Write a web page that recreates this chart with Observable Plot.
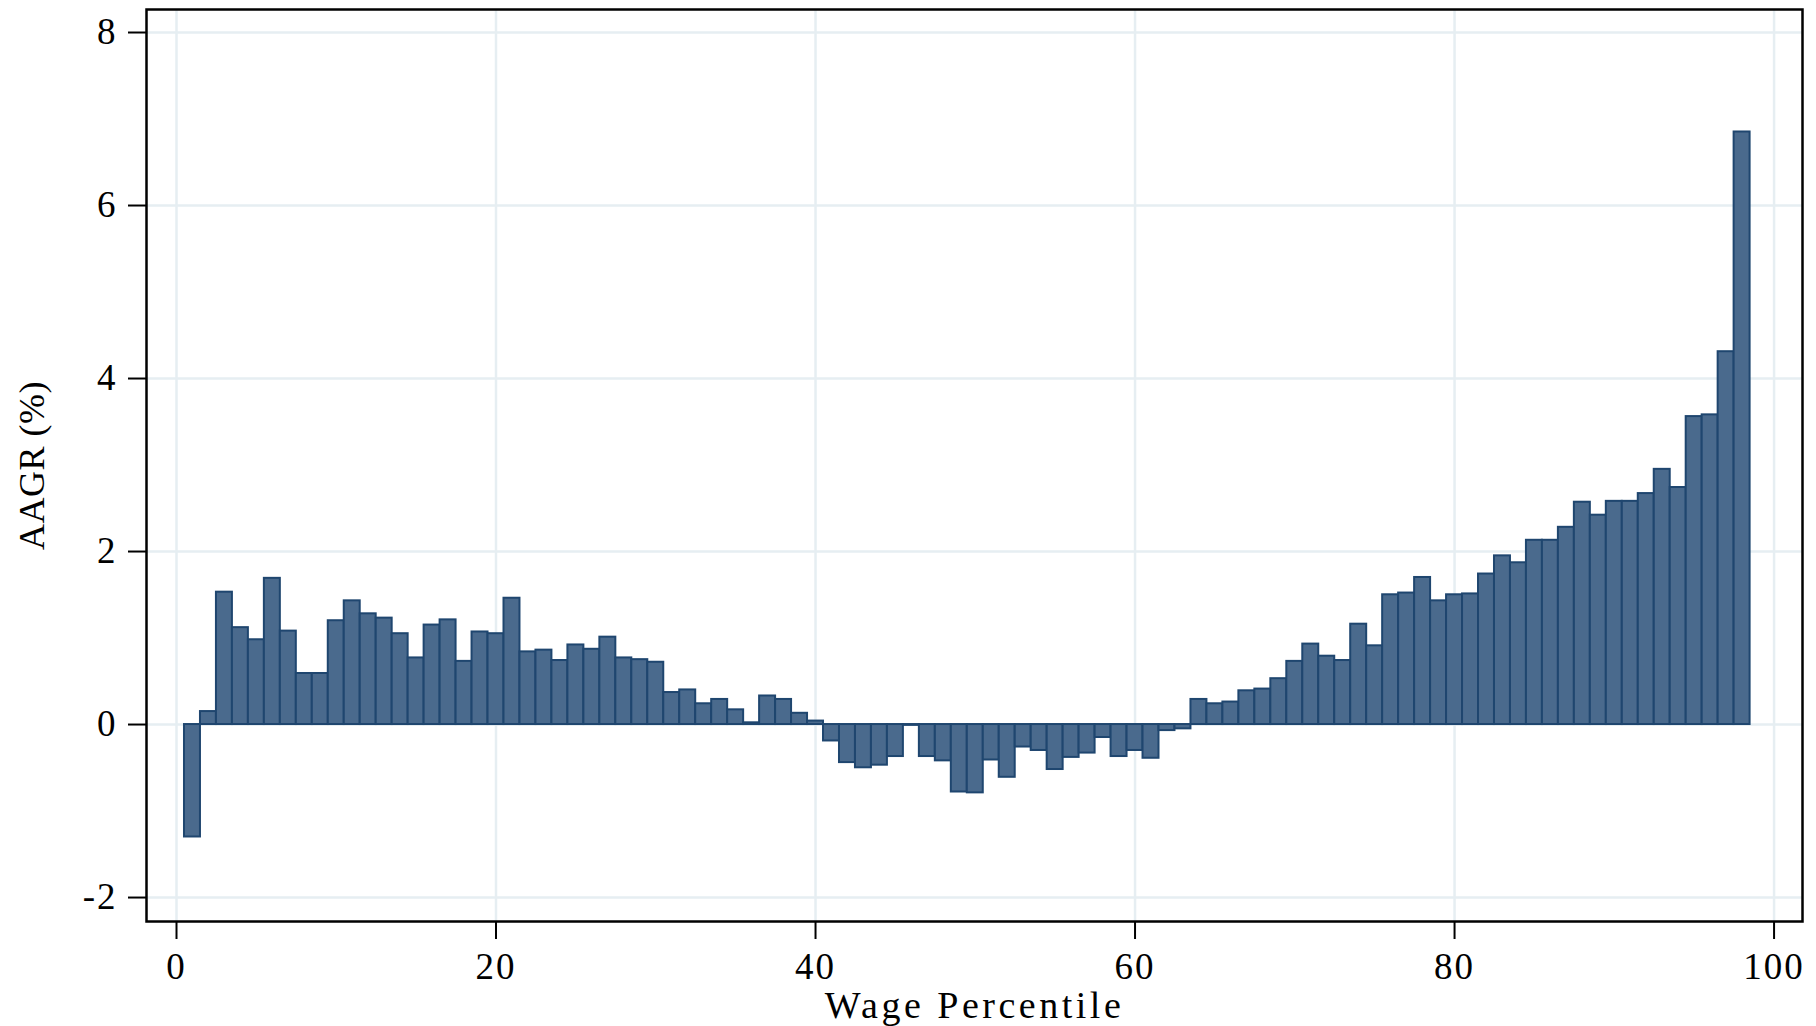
<!DOCTYPE html>
<html>
<head>
<meta charset="utf-8">
<script src="https://cdn.jsdelivr.net/npm/d3@7"></script>
<script src="https://cdn.jsdelivr.net/npm/@observablehq/plot@0.6"></script>
<style>
  html, body { margin: 0; padding: 0; background: white; overflow: hidden; }
  #chart svg { display: block; }
  #chart svg text { letter-spacing: 2px; }
  #chart svg text.xlab { letter-spacing: 3.5px; }
  #chart svg text.ylab { letter-spacing: 0.5px; }
</style>
</head>
<body>
<div id="chart"></div>
<script>
// Wage percentiles (1..98) and average annual growth rate (%)
const percentiles = d3.range(1, 99);
const aagr = [
  -1.30, 0.15, 1.53, 1.12, 0.98, 1.69, 1.08, 0.59, 0.59, 1.20,
   1.43, 1.28, 1.23, 1.05, 0.77, 1.15, 1.21, 0.73, 1.07, 1.05,
   1.46, 0.84, 0.86, 0.74, 0.92, 0.87, 1.01, 0.77, 0.75, 0.72,
   0.37, 0.40, 0.24, 0.29, 0.17, 0.02, 0.33, 0.29, 0.13, 0.04,
  -0.19, -0.44, -0.50, -0.47, -0.37, -0.01, -0.37, -0.42, -0.78, -0.79,
  -0.41, -0.61, -0.26, -0.30, -0.52, -0.38, -0.33, -0.15, -0.37, -0.30,
  -0.39, -0.07, -0.05, 0.29, 0.24, 0.26, 0.39, 0.41, 0.53, 0.73,
   0.93, 0.79, 0.74, 1.16, 0.91, 1.50, 1.52, 1.70, 1.43, 1.50,
   1.51, 1.74, 1.95, 1.87, 2.13, 2.13, 2.28, 2.57, 2.42, 2.58,
   2.58, 2.67, 2.95, 2.74, 3.56, 3.58, 4.31, 6.85
];
const xTicks = [0, 20, 40, 60, 80, 100];
const yTicks = [-2, 0, 2, 4, 6, 8];
const xLabel = "Wage Percentile";
const yLabel = "AAGR (%)";

const data = percentiles.map((p, i) => ({p, v: aagr[i]}));

const gridColor = "#e6eef2";
const chart = Plot.plot({
  width: 1816,
  height: 1026,
  marginLeft: 146,
  marginRight: 14,
  marginTop: 9,
  marginBottom: 105,
  style: {fontFamily: "'Liberation Serif', 'Times New Roman', serif", fontSize: "36px", background: "white", color: "black"},
  x: {domain: [-1.878, 101.78]},
  y: {domain: [-2.277, 8.266]},
  marks: [
    Plot.gridX(xTicks, {stroke: gridColor, strokeOpacity: 1, strokeWidth: 2.5}),
    Plot.gridY(yTicks, {stroke: gridColor, strokeOpacity: 1, strokeWidth: 2.5}),
    Plot.rectY(data, {
      x1: d => d.p - 0.5,
      x2: d => d.p + 0.5,
      y: "v",
      fill: "#4a6a8d",
      stroke: "#1f466f",
      strokeWidth: 2,
      inset: 0
    }),
    Plot.axisX(xTicks, {tickSize: 18, tickPadding: 13, strokeWidth: 2, label: null, fontSize: 37, tickFormat: d => String(d)}),
    Plot.axisY(yTicks, {tickSize: 18, tickPadding: 11, strokeWidth: 2, label: null, fontSize: 37, tickFormat: d => String(d)}),
    Plot.frame({stroke: "black", strokeWidth: 2.5}),
    Plot.text([xLabel], {frameAnchor: "bottom", dy: 84, text: d => d, fontSize: 38, textAnchor: "middle", lineAnchor: "middle", fill: "black", className: "xlab"}),
    Plot.text([yLabel], {frameAnchor: "left", dx: -114, text: d => d, fontSize: 36, rotate: -90, textAnchor: "middle", lineAnchor: "middle", fill: "black", className: "ylab"})
  ]
});
chart.querySelectorAll("g.xlab text").forEach(t => t.classList.add("xlab"));
chart.querySelectorAll("g.ylab text").forEach(t => t.classList.add("ylab"));
document.getElementById("chart").appendChild(chart);
</script>
</body>
</html>
